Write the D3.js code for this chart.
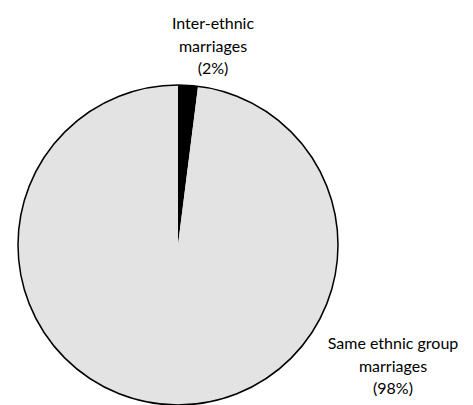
<!DOCTYPE html>
<html><head><meta charset="utf-8">
<script src="https://cdn.jsdelivr.net/npm/d3@7"></script>
<style>body{margin:0;background:#fff}svg{display:block}</style>
</head><body>
<script>
const categories = ["Inter-ethnic marriages", "Same ethnic group marriages"];
const values = [2, 98];
const labelLines = [["Inter-ethnic", "marriages", "(2%)"], ["Same ethnic group", "marriages", "(98%)"]];
const colors = ["#000000", "#e3e3e3"];

const W = 473, H = 405;
const cx = 178, cy = 245, r = 160;
const svg = d3.select("body").append("svg").attr("width", W).attr("height", H);
const pie = d3.pie().sort(null).value(d => d)(values);
const arc = d3.arc().innerRadius(0).outerRadius(r);
const g = svg.append("g").attr("transform", `translate(${cx},${cy})`);
g.selectAll("path.slice").data(pie).join("path").attr("class","slice")
  .attr("d", arc).attr("fill", (d,i) => colors[i]).attr("stroke","none");
g.append("circle").attr("r", r).attr("fill","none").attr("stroke","#000").attr("stroke-width",1.5);

const labelPos = [[213, 29], [393, 349]];
const lineH = 22.5;
labelLines.forEach((lines, i) => {
  const t = svg.append("text").attr("text-anchor","middle")
    .attr("font-family","Lato, sans-serif").attr("font-size", 16).attr("fill","#000");
  lines.forEach((s, j) => t.append("tspan").attr("x", labelPos[i][0]).attr("y", labelPos[i][1] + j*lineH).text(s));
});
</script>
</body></html>
